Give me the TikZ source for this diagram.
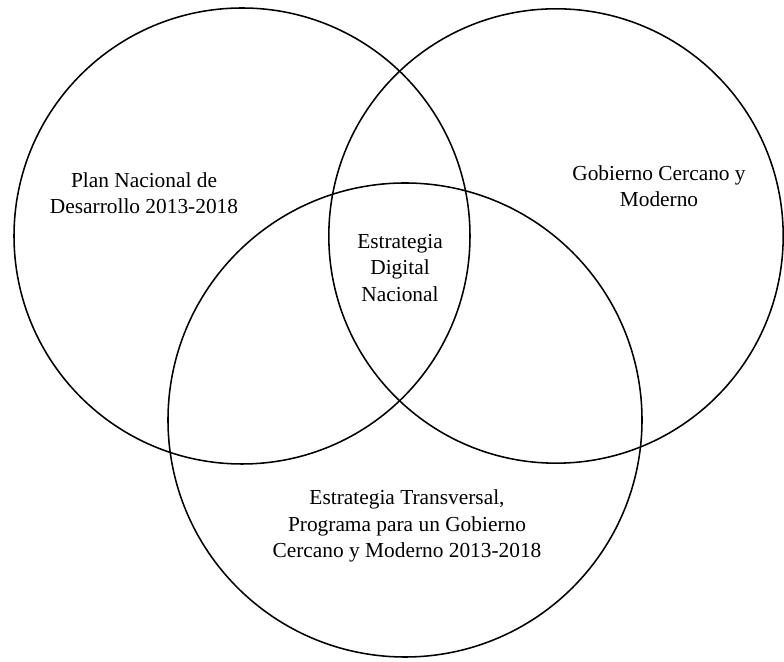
\documentclass[tikz,border=0pt]{standalone}
\usepackage{fontspec}
\setmainfont{Liberation Serif}
\usepackage{tikz}
\usepackage{tkz-euclide}
\usepackage{xcolor}

\tikzset{
  venntext/.style={align=center,font=\rmfamily\fontsize{15.2pt}{18.8pt}\selectfont,inner sep=0pt}
}

\begin{document}
\begin{tikzpicture}
    \useasboundingbox (0,0) rectangle (19.6,16.55);
    \tkzDefPoints{6.05/10.65/A,11.75/10.65/a,13.9/10.65/B,19.58/10.65/b,10.125/6.05/C,16.05/6.05/c}
    \tkzDefPoints{3.6/11.725/P,16.475/11.9/G,10.0/9.85/E,10.175/3.4/T}
    \tkzDrawCircles[draw=black,line width=1.1pt](A,a B,b C,c)
    %\tkzDrawPoints(A,B,C)
    \node[venntext] (plan) at (P) {Plan Nacional de\\Desarrollo 2013-2018};
    \node[venntext] (gobierno) at (G) {Gobierno Cercano y\\Moderno};
    \node[venntext] (digital) at (E) {Estrategia\\Digital\\Nacional};
    \node[venntext] (transversal) at (T) {Estrategia Transversal,\\Programa para un Gobierno\\Cercano y Moderno 2013-2018};

\end{tikzpicture}
\end{document}
